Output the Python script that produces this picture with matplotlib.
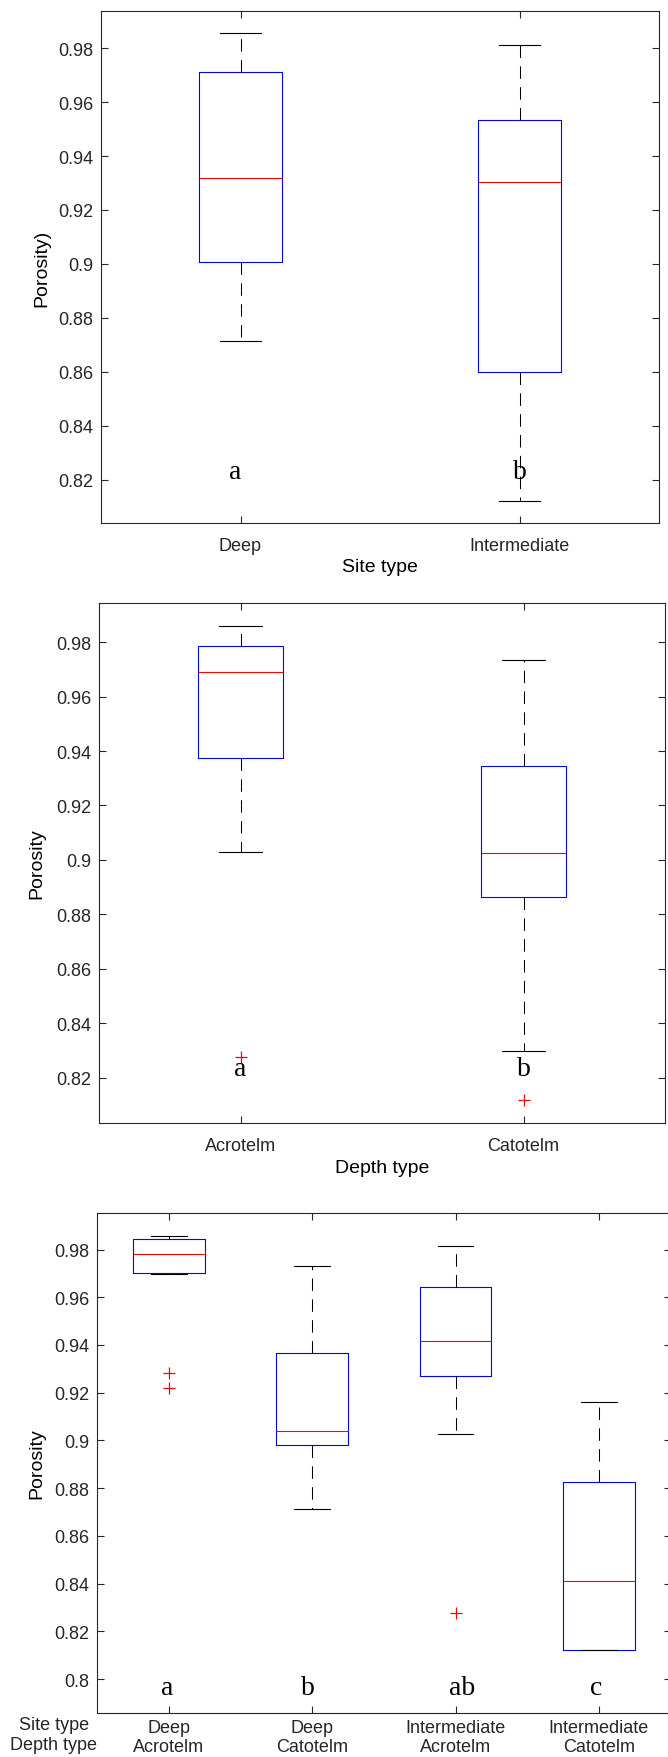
import matplotlib
matplotlib.use("Agg")
import matplotlib.pyplot as plt
import numpy as np

# Porosity by site type
site_types = ['Deep', 'Intermediate']
site_q1 = [0.9007, 0.8599]
site_med = [0.9319, 0.9304]
site_q3 = [0.9712, 0.9532]
site_lo = [0.8713, 0.8120]
site_hi = [0.9855, 0.9812]
site_fliers = [[], []]
site_letters = ['a', 'b']

# Porosity by depth type
depth_types = ['Acrotelm', 'Catotelm']
depth_q1 = [0.9376, 0.8865]
depth_med = [0.9692, 0.9025]
depth_q3 = [0.9785, 0.9344]
depth_lo = [0.9030, 0.8298]
depth_hi = [0.9858, 0.9734]
depth_fliers = [[0.8276], [0.8118]]
depth_letters = ['a', 'b']

# Porosity by site x depth
combo_site = ['Deep', 'Deep', 'Intermediate', 'Intermediate']
combo_depth = ['Acrotelm', 'Catotelm', 'Acrotelm', 'Catotelm']
combo_q1 = [0.9703, 0.8982, 0.9268, 0.8120]
combo_med = [0.9780, 0.9041, 0.9417, 0.8411]
combo_q3 = [0.9844, 0.9367, 0.9644, 0.8827]
combo_lo = [0.9697, 0.8712, 0.9029, 0.8120]
combo_hi = [0.9858, 0.9733, 0.9815, 0.9162]
combo_fliers = [[0.9283, 0.9221], [], [0.8279], []]
combo_letters = ['a', 'b', 'ab', 'c']

TXT = '#262626'
plt.rcParams['font.family'] = ['Liberation Sans', 'DejaVu Sans']
plt.rcParams['text.color'] = TXT
plt.rcParams['axes.edgecolor'] = TXT
plt.rcParams['xtick.color'] = TXT
plt.rcParams['ytick.color'] = TXT


def draw_boxes(ax, q1, med, q3, lo, hi, fliers, width, capw):
    stats = []
    for i in range(len(med)):
        stats.append(dict(q1=q1[i], med=med[i], q3=q3[i],
                          whislo=lo[i], whishi=hi[i], fliers=fliers[i]))
    pos = np.arange(1, len(med) + 1)
    ax.bxp(stats, positions=pos, widths=width, capwidths=capw,
           showfliers=True, manage_ticks=False,
           boxprops=dict(color='blue', linewidth=0.8),
           medianprops=dict(color='red', linewidth=0.8),
           whiskerprops=dict(color='black', linewidth=0.75, linestyle=(0, (12, 8))),
           capprops=dict(color='black', linewidth=0.8),
           flierprops=dict(marker='+', markeredgecolor='red', markersize=8,
                           markeredgewidth=0.9, linestyle='none'))
    ax.set_xlim(0.5, len(med) + 0.5)
    ax.set_xticks(pos)
    ax.tick_params(direction='in', top=True, right=True, length=4.8,
                   width=0.8, labelsize=13)
    ax.tick_params(axis='y', pad=5.5)
    ax.yaxis.set_major_formatter(matplotlib.ticker.FormatStrFormatter('%g'))
    for s in ax.spines.values():
        s.set_linewidth(0.8)


def add_letters(ax, letters, xs, y):
    for lt, x in zip(letters, xs):
        ax.text(x, y, lt, ha='center', va='baseline', fontsize=20,
                family='Liberation Serif', color='black')


fig = plt.figure(figsize=(6.68, 17.58), dpi=100)
W, H = 668, 1758

# top panel: site type
ax1 = fig.add_axes([101 / W, 1 - 524 / H, 558 / W, 512 / H])
draw_boxes(ax1, site_q1, site_med, site_q3, site_lo, site_hi, site_fliers, 0.3, 0.15)
ax1.set_ylim(0.8039, 0.9938)
ax1.set_yticks(np.arange(0.82, 0.981, 0.02))
ax1.set_xticklabels(site_types)
ax1.tick_params(axis='x', pad=10)
ax1.set_ylabel('Porosity)', fontsize=14)
ax1.set_xlabel('Site type', fontsize=14)
ax1.yaxis.set_label_coords(-0.09, 0.5)
ax1.xaxis.set_label_coords(0.5, -0.069)
add_letters(ax1, site_letters, [0.98, 2.0], 0.8205)

# middle panel: depth type
ax2 = fig.add_axes([99 / W, 1 - 1124 / H, 566 / W, 520 / H])
draw_boxes(ax2, depth_q1, depth_med, depth_q3, depth_lo, depth_hi, depth_fliers, 0.3, 0.15)
ax2.set_ylim(0.8033, 0.9944)
ax2.set_yticks(np.arange(0.82, 0.981, 0.02))
ax2.set_xticklabels(depth_types)
ax2.tick_params(axis='x', pad=10)
ax2.set_ylabel('Porosity', fontsize=14)
ax2.set_xlabel('Depth type', fontsize=14)
ax2.yaxis.set_label_coords(-0.094, 0.5)
ax2.xaxis.set_label_coords(0.5, -0.069)
add_letters(ax2, depth_letters, [1.0, 2.0], 0.8208)

# bottom panel: site x depth
ax3 = fig.add_axes([97.3 / W, 1 - 1714 / H, 573.2 / W, 500 / H])
draw_boxes(ax3, combo_q1, combo_med, combo_q3, combo_lo, combo_hi, combo_fliers, 0.5, 0.25)
ax3.set_ylim(0.7858, 0.9953)
ax3.set_yticks(np.arange(0.80, 0.981, 0.02))
ax3.set_xticklabels([f'{s}\n{d}' for s, d in zip(combo_site, combo_depth)])
ax3.tick_params(axis='x', pad=4)
ax3.set_ylabel('Porosity', fontsize=14)
ax3.yaxis.set_label_coords(-0.091, 0.5)
add_letters(ax3, combo_letters, [0.99, 1.97, 3.045, 3.98], 0.7936)
fig.text(54 / W, 1 - 1717 / H, 'Site type\nDepth type', ha='center', va='top',
         fontsize=13, linespacing=1.2)

fig.savefig('out.png', dpi=100)
